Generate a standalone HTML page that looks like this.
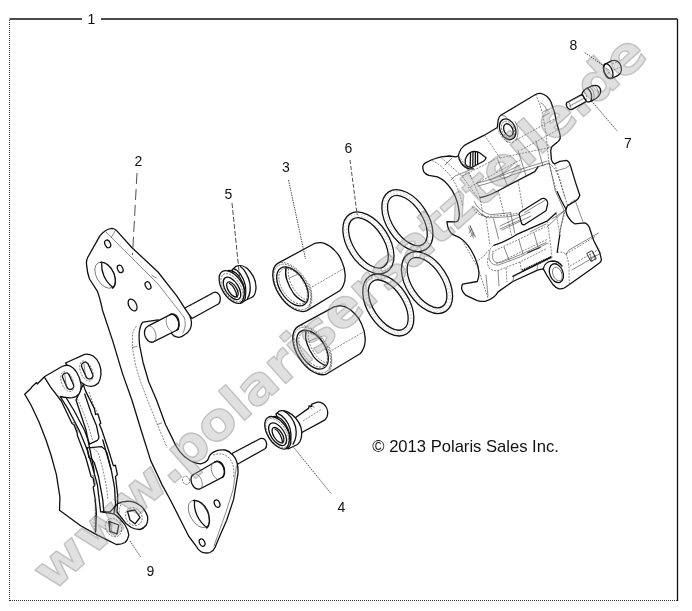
<!DOCTYPE html>
<html><head><meta charset="utf-8"><title>Brake caliper</title>
<style>
html,body{margin:0;padding:0;background:#fff;}
body{width:692px;height:611px;overflow:hidden;position:relative;font-family:"Liberation Sans",sans-serif;}
svg{position:absolute;left:0;top:0;will-change:transform;}
.lbl{font-family:"Liberation Sans",sans-serif;font-size:14px;fill:#111;}
.k{fill:none;stroke:#111;stroke-width:1.3;stroke-linejoin:round;stroke-linecap:round;}
.kf{fill:#fff;stroke:#111;stroke-width:1.3;stroke-linejoin:round;stroke-linecap:round;}
.t{fill:none;stroke:#4a4a4a;stroke-width:0.65;stroke-linecap:round;}
.d{fill:none;stroke:#3a3a3a;stroke-width:0.62;stroke-dasharray:2 1.2;}
.ld{fill:none;stroke:#222;stroke-width:0.8;}
</style></head><body>
<svg width="692" height="611" viewBox="0 0 692 611">
<!-- FRAME -->
<g id="frame">
<path d="M9.5 19H82M101 19H677.5" stroke="#111" stroke-width="1.3" fill="none"/>
<path d="M677.5 19V601" stroke="#111" stroke-width="1.3" fill="none"/>
<path d="M9.5 20V601" stroke="#333" stroke-width="1" stroke-dasharray="1 1" fill="none" shape-rendering="crispEdges"/>
<path d="M10 600.5H677" stroke="#333" stroke-width="1" stroke-dasharray="1 1" fill="none" shape-rendering="crispEdges"/>
</g>
<!-- ===== BRACKET (2) ===== -->
<g id="bracket">
<!-- rear part of upper pin (behind plate) -->
<path class="kf" d="M184 308.5L213.6 292.5C216 291.6 218 292.8 219.4 295C220.8 297.8 220.6 301 218.8 303.8L192 318.5Z"/>
<path class="d" d="M190 305.5L213 293.5"/>
<!-- rear part of lower pin -->
<path class="kf" d="M232 453.5L260 438.7C263 437.6 265 439 266.2 442C267 445 266.5 447.5 265 448.8L237 464.5Z"/>
<path class="d" d="M236 451.5L259 439.6"/>
<!-- plate -->
<path class="kf" d="M112 228.3C108 228.6 103 232 100 235.6L87.8 257.3C86.4 260 86.2 262.5 86.6 265.1C87 270 88 275 89.5 279L97.3 291.1C99.6 297 101 303 102.5 310.2L112.7 340.9L122.5 373.6L131.9 400L140.9 429.5L150.7 460.6L162.2 485.1L170.4 500L188.6 536L196.3 546.3C198 549.5 200 551.5 202.5 552.3C205.5 553.2 208 553.2 210 552.5C212.5 551.5 214 549.8 215 547.5L219.8 536L226.7 520.2L233.6 499.4L238 473.3C238.2 469 237.8 466 237.1 463C236 459 234 456 231.9 454.3C230 452 227.5 450.5 225 450C222 449.6 219 449.8 216.3 450.8C213 452 210.5 454 209.4 456C208.5 458 208 459.5 207.6 460.3C205.5 462.5 203.5 463.6 200.7 463.8C196 463.5 192 462 188.6 459.5C183 456 178 451 173.6 440.9L165.5 424.5L156.5 400L148.7 381.8L143 362.2L139.7 345.8C139 341 139 337 139.2 332.7C139.5 330 140 328 140.6 326.2C141.2 324 142 323 143 322.1L158 319.8L171 333L173.8 335.9C175.5 336.8 177 337.3 179 337.3C181 337.2 182.5 336.5 184.2 335C187 333.5 189 331.5 190.2 329C191.2 327 191.6 324.5 191.4 322C191.2 319.5 190.5 317.5 189.4 315.1L184.2 307.3L177.1 296.3L158 272L132 247.7L116.4 230.4C115 229 113.5 228.4 112 228.3Z"/>
<!-- thin inner edge lines -->
<path class="t" d="M106 232.1L132 258L158 284L184 317.1"/>
<path class="t" d="M115.5 230.4L111.2 237.4M152 275.5L156.3 278"/>
<path class="t" d="M184 317.1C186 322 185.5 328 183 333"/>
<path class="d" d="M136.5 326C133.5 329.5 132.3 333 132.4 336L132.4 347.5L135.6 365.5L140.6 381.8L147.5 400L157.3 424.5L167.1 447.5"/>
<path class="t" d="M132.4 347.5L137 346.5M157.3 424.5L161.5 423"/>
<path class="t" d="M236.5 466L233 490L226 512L214 546"/>
<path class="d" d="M213 455C219 452.5 226 454 230 459C233.5 464 234.5 470 233.5 477"/>
<!-- holes upper -->
<ellipse class="k" cx="107.7" cy="243.9" rx="2.7" ry="4" transform="rotate(-25 107.7 243.9)" stroke-width="1"/>
<ellipse class="k" cx="120.2" cy="268.9" rx="2.6" ry="3.9" transform="rotate(-25 120.2 268.9)" stroke-width="1"/>
<ellipse class="k" cx="148" cy="285.5" rx="2.6" ry="3.9" transform="rotate(-25 148 285.5)" stroke-width="1"/>
<ellipse class="k" cx="132.6" cy="305" rx="3.8" ry="6.3" transform="rotate(-28 132.6 305)" stroke-width="1"/>
<!-- big hole upper -->
<ellipse class="t" cx="105.1" cy="275.2" rx="8.6" ry="14.2" transform="rotate(-30 105.1 275.2)"/>
<path class="k" d="M100.5 262.3C105 261.5 111 266 113.8 273C116.5 280 115.8 286 112.5 288.2"/>
<path class="k" d="M101.7 263.3C101 271 104.5 281 112.6 287.2"/>
<!-- big hole lower -->
<ellipse class="t" cx="198.8" cy="514" rx="8.6" ry="15" transform="rotate(-30 198.8 514)"/>
<path class="k" d="M193.5 500.5C198.5 499.5 205 504.5 208 512C210.5 519.5 209.5 526 206.8 528"/>
<path class="k" d="M194.6 501.5C193.5 510 198 521 206.8 527.5"/>
<ellipse class="k" cx="217.1" cy="503.6" rx="2.6" ry="3.8" transform="rotate(-25 217.1 503.6)" stroke-width="1"/>
<ellipse class="k" cx="202.1" cy="542.6" rx="2.6" ry="3.8" transform="rotate(-25 202.1 542.6)" stroke-width="1"/>
<ellipse class="d" cx="186" cy="480.4" rx="3.4" ry="4.3" transform="rotate(-25 186 480.4)"/>
<!-- upper pin front section -->
<path class="kf" d="M147.9 326.2L171.7 313.9C175 313.6 177.5 316 178.6 320C179.5 324 179 327.5 178.2 329.5L152.8 342.2C149.5 342.6 146.5 340 145 336C143.8 331.5 145 327.8 147.9 326.2Z"/>
<path class="t" d="M149.5 325.8C152.5 326.5 155 330 155.8 334C156.5 338 155.6 341 153.5 342"/>
<path class="k" d="M170 314.6C173.5 313.6 177 316.5 178.3 321C179.3 325 178.6 328.5 176.6 330.2" stroke-width="1"/>
<path class="t" d="M167.5 316C165.8 318 165.6 321.5 166.8 325C167.8 328 169.6 330.5 171.6 331.6"/>
<!-- lower pin front section -->
<path class="kf" d="M194 474.2L216.3 461.2C219.5 460.8 222.5 463 224 467.5C225 471.5 224.6 475 223.2 476.8L199.8 489C196.5 489.6 193.2 487.2 191.6 483C190.3 478.6 191.2 475.5 194 474.2Z"/>
<path class="t" d="M195.6 473.6C198.5 474.3 201 477.5 202 481.6C202.8 485.5 202 488 200.2 489"/>
<path class="k" d="M214.5 462.2C218 460.6 222 463.2 223.6 467.8C224.8 471.6 224.2 475.2 222.4 477.2" stroke-width="1"/>
<path class="t" d="M212.4 463.4C210.8 465.5 210.8 469 212 472.4C213 475.4 215 478 217 479"/>
</g>
<!-- ===== SEAL RINGS (6) ===== -->
<defs>
<g id="ring">
<ellipse class="kf" cx="0" cy="0" rx="34.3" ry="20.8"/>
<ellipse cx="0" cy="0" rx="32.3" ry="18.8" fill="none" stroke="#999" stroke-width="0.45" stroke-dasharray="1.4 2"/>
<ellipse cx="0" cy="0" rx="30.3" ry="16.8" fill="none" stroke="#999" stroke-width="0.45" stroke-dasharray="1.4 2"/>
<ellipse class="kf" cx="0" cy="0" rx="28.4" ry="14.9"/>
</g>
<g id="piston">
<!-- body -->
<path class="kf" d="M-14.6 -23.6L21.7 -43.3C26 -44.6 30 -44.4 32.1 -43.7C36.5 -42 40 -39.5 42.5 -36.4C46 -33 48.5 -28.5 49.4 -26C51.5 -21.5 52.6 -16.5 52.9 -12.1C53 -7.5 52.3 -4 51.1 -1.7C50.3 0.5 49 2.3 47.7 3.5L14.6 23.6A27.8 16 57 0 1 -14.6 -23.6Z"/>
<!-- front face right half (thin) -->
<path class="d" d="M-14.6 -23.6A27.8 16 57 0 1 14.6 23.6"/>
<ellipse class="d" cx="0" cy="0" rx="25.6" ry="14.4" transform="rotate(57)"/>
<!-- bore -->
<ellipse class="kf" cx="0.2" cy="-0.6" rx="21.7" ry="12.6" transform="rotate(57 0.2 -0.6)" stroke-width="1.2"/>
<ellipse class="d" cx="0.8" cy="-0.9" rx="20" ry="11" transform="rotate(57 0.8 -0.9)"/>
<!-- inner step arc -->
<path class="k" d="M-6.1 -19.8C-7.2 -15 -6.8 -11 -5.5 -7.2C-3.8 -2 -1.5 2.5 1.3 6.5C4.5 10.5 8.5 13.5 12.8 15.1" stroke-width="1.2"/>
<path class="d" d="M-3.6 -18.6C-4.4 -14 -4 -10.5 -2.8 -7C-1 -2 1.2 2 4 5.5C6.8 9 10.5 11.8 14.5 13.2"/>
<path class="t" d="M-3 -9L6 -13"/>
<!-- tangent thin lines -->
<path class="d" d="M19.7 0L51.1 -18.2"/>
<path class="d" d="M17 -3C20 3 20.5 12 16 21.5"/>
</g>
</defs>
<g id="rings">
<use href="#ring" transform="translate(407.4 220.6) rotate(57)"/>
<use href="#ring" transform="translate(368.4 242.9) rotate(57)"/>
<use href="#ring" transform="translate(427 282.6) rotate(57)"/>
<use href="#ring" transform="translate(388.3 305) rotate(57)"/>
</g>
<g id="pistons">
<use href="#piston" transform="translate(292.3 287)"/>
<use href="#piston" transform="translate(312.3 350.2)"/>
</g>
<!-- ===== BUSHING (5) ===== -->
<g id="bush5">
<!-- back flange -->
<path class="kf" d="M236 266.3C240 264.5 245.5 266 250 271.5C254.5 277 256.6 284 255.8 290C255.2 294 253.8 296.5 251.5 297.5L242 302L232 270Z"/>
<!-- groove / middle -->
<path class="k" d="M240.5 266.5C244 269 248.5 276 249.8 283C250.8 289 250 294.5 247.5 298.5"/>
<path class="k" d="M233.5 268.6C238.5 270 243.5 277 245.2 285C246.4 291 245.5 297 243 300.5"/>
<!-- front flange -->
<ellipse class="kf" cx="232.3" cy="287" rx="18.4" ry="10.2" transform="rotate(57 232.3 287)"/>
<path class="k" d="M228 270.6C233 269 240 275 243 283.5C245.5 291.5 244.5 299.5 240.5 303.2"/>
<ellipse class="d" cx="232" cy="287.6" rx="15.8" ry="8.4" transform="rotate(57 232 287.6)"/>
<ellipse class="k" cx="232" cy="288.4" rx="12.6" ry="6.6" transform="rotate(57 232 288.4)" stroke-width="1"/>
<ellipse class="k" cx="232.4" cy="289.4" rx="8.6" ry="4.1" transform="rotate(57 232.4 289.4)" stroke-width="1.1"/>
<path class="k" d="M229.5 283.5C233 285 236.5 291.5 237 297" stroke-width="1"/>
<path class="d" d="M233.5 284L239 292"/>
</g>
<!-- ===== BOOT (4) ===== -->
<g id="boot4">
<!-- tail tube -->
<path class="kf" d="M293.5 419L308.5 408.4L309.2 406L311.8 406.4L311.4 404.4L316.5 402.4C319.5 401.6 323 403 325.5 406C327.6 409 328.2 413.5 327 416.8C326.2 418.8 325 420 323.7 420.6L300 433.5Z"/>
<path class="t" d="M309.2 406L311.6 409M311.4 404.4L314 407.6"/>
<path class="d" d="M303 421L322 409"/>
<!-- back flange -->
<path class="kf" d="M279 411.2C284 409.5 291 412.5 296 418.5C300.5 424 302.5 431 301.5 436.5C301 440.5 299.2 443.5 296.5 445L288 449L276 414Z"/>
<path class="k" d="M284 411.2C289 413.5 294 420 295.6 427C296.8 433 296 439.5 293 444.2"/>
<path class="k" d="M277.5 413.4C282.5 415 288 421.5 290 428.5C291.6 435 290.8 442 288 446.2"/>
<!-- front flange -->
<ellipse class="kf" cx="277.8" cy="432.8" rx="18.2" ry="10.1" transform="rotate(57 277.8 432.8)"/>
<path class="k" d="M273.5 416.6C278.5 415.2 285 421 288 429C290.6 437 289.8 445 286 448.6"/>
<ellipse class="d" cx="277.3" cy="433.2" rx="16.4" ry="8.8" transform="rotate(57 277.3 433.2)"/>
<ellipse class="k" cx="277.6" cy="434.2" rx="12.8" ry="6.8" transform="rotate(57 277.6 434.2)" stroke-width="1"/>
<ellipse class="k" cx="278" cy="435.2" rx="8.8" ry="4.2" transform="rotate(57 278 435.2)" stroke-width="1.1"/>
<path class="k" d="M275 429C278.5 430.5 282 437 282.6 442.5" stroke-width="1"/>
</g>
<!-- ===== BLEEDER (7) ===== -->
<g id="bleed7">
<!-- shank -->
<path class="kf" d="M566.5 102.8L582.1 94.2L586.5 101.4L571.6 109.6C570.4 109.9 569.2 109.5 568.2 108.4C566.6 106.8 566 104.8 566.5 102.8Z" stroke-width="1.2"/>
<path class="t" d="M568 102.4L583 94.6M569.6 106L584.6 98"/>
<path class="t" d="M568.3 101.8C569.8 103.2 571 106.5 571.2 109.6"/>
<!-- body -->
<path class="kf" d="M582.1 94.2C582.6 91.6 584.6 89.4 587.3 88.1L592 85.9C594.5 85 597 85.2 598.6 86.4C600.2 87.8 600.9 89.8 600.6 91.6C600.4 93 600.2 93.6 599.9 94.2C599 96 597.6 97.4 596 98.5L590.7 101.4C588.6 102.2 587.2 102.1 586.5 101.4Z" stroke-width="1.2"/>
<path class="k" d="M587.3 88.1C589.8 89.8 591.4 93 591.6 96.4C591.7 98.6 591.3 100.2 590.7 101.4" stroke-width="0.9"/>
<path class="t" d="M589.8 86.9C592.3 88.6 594 92 594.2 95.6C594.2 97.2 594 98.4 593.6 99.6"/>
<path class="t" d="M594 85.4C596.6 87 598.2 90 598.4 93.4C598.4 94.6 598.2 95.6 597.8 96.6"/>
<path class="d" d="M584.5 92.5C586 94 587 97 586.8 100.5"/>
</g>
<!-- ===== CAP (8) ===== -->
<g id="cap8">
<path class="kf" d="M606.6 63.4L612 60.6C614 60 616 60.4 617.6 61.4C619.4 62.6 620.6 64.4 621.2 66.6C621.7 68.8 621.5 71 620.6 72.8C619.8 74.2 618.6 75.2 617.2 75.8L611.2 78.6C609 79 606.6 77.4 605 74.2C603.6 71.2 603.2 68.4 603.8 66.4C604.3 64.9 605.3 63.9 606.6 63.4Z" stroke-width="1.2"/>
<ellipse class="k" cx="608.2" cy="71" rx="4" ry="7.8" transform="rotate(-24 608.2 71)" stroke-width="1.1"/>
<path class="d" d="M612 64L618 61.6M613.5 70L620.5 67"/>
<path class="t" d="M606.6 68.6L609.2 70.4M607.8 73.4L610 72"/>
</g>
<!-- ===== CALIPER BODY ===== -->
<g id="caliper">
<path class="kf" d="M422.8 166.4C423.5 164.5 424.5 163.5 425.4 162.9L432.3 159.5L441 156.9L449.7 156L455.7 156.9L458.3 156C458.8 153 459.8 151 461 149C462.5 146.8 464.5 145 467 143.9L484.4 135.2L497.3 127.5L498.2 119.7C498.8 117.5 499.6 116.2 500.8 115.3L535.5 94.5C537.2 93.6 539 93.2 540.7 93.3C543 93.8 545 94.8 546.8 96.3C548.5 98 550 100 551.1 102.3L554.6 112.7L556.3 121.4L559.8 133.6C560.2 135.5 560.3 137.2 560.1 138.8C559.3 140.8 558 142 556.3 143.1L552 146.6C551.2 148 550.8 149.5 550.7 150.9L551.4 159.6C552 162 553 163.3 554.6 163.9L559.8 161.3L566.7 160.4C568.5 161.2 569.5 162.8 570.2 164.8L575.4 182.1L579.8 195.2C579 197.5 577.8 199.2 576.3 200.4L567.6 205.6C566.5 207.2 566 209 565.9 210.8C566.3 213.5 567.2 215.8 568.5 217.7C570.2 220.5 572.3 222.5 574.6 223.8L585 222.9C587 223.8 588.4 225.4 589.3 227.3L593.6 240.3L599.7 252.4L601.4 259.4C601.2 261 600.6 262 599.7 262.8L590.2 269.8L569.4 284.5L564.2 288C562.5 288.8 560.8 289 559 288.8C556.5 288 554.6 286.5 552.9 284.5L547.7 276.7L543.3 268.9L538.1 269.8L512.8 281.5L498.1 291.9C496.8 294 495.5 295.8 493.8 297.1C491 299.3 488 300.8 485.1 301.4C482.5 301.6 479.8 301.3 477.3 300.6L466 295.4C463.8 293.5 462.4 291.5 461.7 289.3C461.5 287.2 461.8 285.5 462.5 284.1L477.3 281.5C478.5 278.8 479 275.8 479 272.8C478.6 268 477.3 263 475.5 259C473.5 254 471 249.5 467.7 245.1C465 241.8 462 239 459.1 237.3L453 234.7C451 233.2 449.6 231.5 448.7 229.5C447.8 227 447.2 224.5 446.9 221.7L455.7 221.9C457.2 221.5 458 221 458.3 220.2C459.2 218 459.5 215.5 459.2 213.2C458.9 209.5 458.3 206 457.5 202.8C456.2 198.5 454.5 194.5 452.3 190.7C450.3 187.5 448 184.5 445.3 182C443 179.8 440.3 178 437.5 176.8L428.9 175.4C426.8 174.8 425 173.5 423.7 171.6C423 170 422.7 168.2 422.8 166.4Z"/>
<!-- top boss front face (hole) -->
<ellipse class="k" cx="507.7" cy="129.2" rx="7.6" ry="10.8" transform="rotate(-25 507.7 129.2)"/>
<ellipse class="k" cx="508.4" cy="130" rx="4.3" ry="6.6" transform="rotate(-25 508.4 130)" stroke-width="1"/>
<ellipse class="d" cx="508" cy="129.6" rx="6" ry="8.8" transform="rotate(-25 508 129.6)"/>
<!-- recess curve around window -->
<path class="k" d="M458.3 155C458.6 158.5 460 161.5 461.5 163.5C463.5 166.2 466 168 469 168.8L473.5 168.8" stroke-width="1.1"/>
<!-- window with hatch -->
<path class="kf" d="M465.3 159.5C466.5 155.5 469 152.8 472.2 151.7C474.5 151.3 477 151.6 479.2 152.5L486.1 157.7C485.8 159.3 484.8 160.4 483.5 161.2L472.2 167.3C469.8 167.5 467.6 166.8 466.2 165.5C465.2 163.8 464.9 161.5 465.3 159.5Z" stroke-width="1.2"/>
<path class="k" d="M470.6 152.6L470.2 166.6M473 151.8L472.8 166.2M475.4 151.8L475.3 164.8M477.6 152.2L477.6 163.6" stroke-width="0.8"/>
<!-- key thick interior lines -->
<path class="k" d="M480 197.6C486 196.5 492 194 498.2 190.7L534.8 171.6L538 166.8" stroke-width="1.2"/>
<path class="d" d="M538 166.8L549 163.5"/>
<path class="k" d="M493.8 245.4C501 243 509 239.5 516.3 234.7L547.5 220.8L556 213" stroke-width="1.2"/>
<path class="k" d="M557.2 191.7L561 200L565.9 209" stroke-width="1.4"/>
<path class="k" d="M559.8 235.1L558.4 244L557.2 252.4" stroke-width="1"/>
<!-- slot -->
<path class="k" d="M520.8 211.7L541.6 198.7C543.4 198.2 545 198.6 546 199.5C547.4 200.8 548 202.3 547.7 203.9L546 210.8L524.3 224.7C522.8 224.9 522 224.5 521.7 223.8L519.1 214.3C519.3 213 519.9 212.2 520.8 211.7Z" stroke-width="1.5"/>
<path class="t" d="M524.5 212.5L544.5 200.5"/>
<!-- bottom thick hatched bar -->
<path d="M522.5 270.6L552 256.8" fill="none" stroke="#111" stroke-width="2.4" stroke-dasharray="1.2 0.7"/>
<path class="k" d="M512.8 276.3L551 257.2" stroke-width="0.9"/>
<path class="k" d="M528 252.5L540 247.5" stroke-width="1"/>
<!-- lower ear hole -->
<ellipse class="k" cx="556.4" cy="273.2" rx="6.6" ry="9.8" transform="rotate(-22 556.4 273.2)" stroke-width="1.1"/>
<ellipse class="t" cx="557.4" cy="274" rx="4.4" ry="7.2" transform="rotate(-22 557.4 274)"/>
<path class="k" d="M543.3 268.9C544 264 548 261.2 552.5 261C556 261 559.5 262.5 562 266" stroke-width="1"/>
<!-- thin/dotted interior structure -->
<g class="d">
<path d="M432 160.5C438 163 446 170 452 178C457 186 461 196 462.5 206"/>
<path d="M441 157.5L462 176L478 198"/>
<path d="M458.3 156C462 160 466 166 468 170L480 197.6"/>
<path d="M462 176L500 157M468 188L520 160"/>
<path d="M484.4 135.2L492 146L500 158"/>
<path d="M497.3 127.5C499 133 502 138 506.5 141.5C511 143.5 514.5 142.5 516.5 139"/>
<path d="M516 140L556 118M521 150L558.5 129.5M500 158L552 147"/>
<path d="M535.5 94.5C538 99 541 107 543 116L546 134L549 163.5"/>
<path d="M472.2 206.3C473.5 209.5 475.5 212 477.4 213.2C480 215.2 483 216.3 486.1 216.7L506.9 215L519 213"/>
<path d="M480 197.6L483 215M498.2 190.7L504 214M518 180.5L523 210"/>
<path d="M549 163.5L556 190L557.2 191.7"/>
<path d="M549 163.5C553 166 556 170 558 175L565 198"/>
<path d="M486 217L490 246M507 215L512 237.5"/>
<path d="M461 238L478 268L488 298"/>
<path d="M476 262L484 256C487 252 490 248.5 493.8 245.4"/>
<path d="M488 258C487 262 487.5 266 489.5 268.5C492 270.5 495 271 498 270.5L520 262L546 249"/>
<path d="M492 252L545 227M496 264L548 239"/>
<path d="M506 268L507 282M520 262L521.5 271"/>
<path d="M556 213L560 235M547.5 220.8L552 256.8"/>
<path d="M565.9 209L561 226L559.8 235.1"/>
<path d="M557.2 252.4C560 251.5 563 252 566 254"/>
<path d="M566 254L596 236M570 266L600 248.5"/>
<path d="M566 254C568.5 260 569.5 268 569 276L569.4 284.5"/>
<path d="M554.6 163.9L560 180L567.6 205.6"/>
<path d="M575 200L570 203"/>
</g>
<g class="t">
<path d="M468.5 227L473.5 238M470 225.5L475.5 237M471.5 229L469 233M473.5 233L470.5 236.5"/>
<path d="M486 217L480.5 214M490 180L520 165"/>
<path d="M541 103C543.5 104 545.5 106.5 546.5 110M543 112L548 109.5M544 116L549.5 113"/>
<path d="M590 254L592 262M593 252.5L595.5 260M590 258L596 255.5"/>
<path d="M500 229L520 220M530 232L546 224"/>
</g>
<g class="t">
<path d="M476.3 183.4C488 180.5 500 176.5 510.7 172.3L547.1 161.1"/>
<path d="M478 186C490 183 502 179 512 175L548 163.5"/>
<path d="M474.3 201.6C476.5 206 479 209 482.4 210.7C485 212.8 488 214 490.5 214.7L510.7 212.7"/>
<path d="M476.3 208.7C479.5 213 484 216.5 488.4 217.8L508.7 216.8L519 214.5"/>
<path d="M493.5 218.8L498.6 239M510.7 212.7L514.7 233"/>
<path d="M564.3 210.7L547.1 226.9M564.3 210.7L559.2 235M564.3 210.7L552 219"/>
<path d="M549.1 162.1L555.2 190.5L564.3 210.7"/>
<path d="M470 226L474 236M500 226L530 212M502 230L531 216"/>
<path d="M490 250C488.5 254 488.5 258.5 490.5 262C492.5 264.5 495.5 265.5 498.5 265L520 257L548 243"/>
<path d="M493 253C492 256.5 492.5 259.5 494.5 261.5C497 263 499.5 263 502 262L522 254L546 242.5"/>
<path d="M504 247L509 260M519 240L523 254M534 233L538 247"/>
<path d="M498 270.5L499 286M486 275L488 296"/>
<path d="M512.8 281.5L514 276M537 269L538 263"/>
<path d="M566 254L569 250L598.5 233M572 270L601 253"/>
<path d="M575 200L583 222M570.2 164.8L566 168L556 171"/>
<path d="M451 180L455 176L470 170M445 165L452 158"/>
<path d="M500.8 115.3C503 115 505 116 507 118M516.5 139C519 134 518.5 127 515 121.5"/>
<path d="M498 160L507 185M518 150L526 176M536 141L543 166"/>
</g>
<rect x="588.5" y="251.5" width="6" height="9" fill="none" stroke="#222" stroke-width="0.8" transform="rotate(-28 591.5 256)"/>
</g>
<!-- ===== BRAKE PADS (9) ===== -->
<g id="pads">
<!-- back pad upper ear -->
<path class="kf" d="M65.5 363L84.6 354.3C87.5 353.8 90.5 354.5 93.2 356C96 358 98 360.8 99.3 363.9C100.6 367 101.2 370.8 101 374.3C100.6 378 99.8 380.8 98.4 383C96.5 385 94 386.2 91.5 386.4C89 386.4 86.6 385.8 84.6 384.7L78 380Z"/>
<!-- back pad lower ear -->
<path class="kf" d="M117.5 503.8C121 501.8 125.5 501 130 501.3C134 501.8 138 503.6 141.3 506.3C144 509 146.3 512.5 147.5 516.3C148 519.5 147.6 522.5 146.3 525C144.6 527.3 142.5 528.8 140 529.5C137 529.5 134 528.8 131.3 527.5L126.3 523.8L117 512Z"/>
<!-- back pad body strip between ears (white fill) -->
<path class="kf" d="M83.2 384.4L85.7 391.4L94.3 408.4L95.6 414.5L97.8 413.8L100.8 423.2L99.4 424.2L101.7 429.7L108.1 448.8L113.4 465.9L115.4 465.2L117.4 474.6L115.5 476.5L117.7 495.6L117.5 503.8L110 512L96 512L94 470L86 430L76 400Z"/>
<!-- front pad : friction face + front ears -->
<path class="kf" d="M24.7 394.2L30.8 388.6L31.5 387.2L36.5 382.6L37.2 384L44.7 376.5L62 366.5C64.3 365.5 66.8 365.3 69 365.6C72 366.8 74.8 369.2 76.8 372.5C79 376 80.6 380.5 81.1 384.7C81.3 388 80.6 391 79.4 393.3C77.6 395.8 75 397.3 72.4 397.7C68.5 398.2 64.5 397.5 60.2 396.5L67.7 408.4L79.4 430.7L86.8 448.8L92.1 465.9L97.4 485L100.6 511.5L100.8 512C100.5 511.8 101.5 511.8 102.5 512L113.8 513.8C118 516.5 122 520.5 125 525C127.3 528.5 128.5 532 128.8 535C128.2 538.3 126.8 541 125 542.5C122.3 544 119.3 544.6 116.3 544.5L105 538.8L94.6 533.6L80.7 525.8L59.5 510.2L59.9 497.2L56.4 474.7L51 455L46 440L39 422L31 405Z"/>
<!-- curve A: face/side boundary with notches -->
<path class="k" d="M44.7 377.7L50.6 387.1L61.3 401L71.9 423.3L74.2 425L77.4 433.5L77.2 435L85.7 457.3L91.1 476.5L93 478L94.6 485.8L93.2 487.1L95 498L96.4 512.7L95.6 531.9" stroke-width="1.2"/>
<path class="t" d="M71.9 423.3L74.6 422.2L78 431.8L77.4 433.5M91.1 476.5L93.4 475.4L95.4 483.8L94.6 485.8"/>
<!-- curve C: upper block left edge -->
<path class="k" d="M66.6 398.5L74 410.5L84.7 430.7L89.4 443.5" stroke-width="1.2"/>
<!-- curve F: upper block right edge w/ step -->
<path class="k" d="M84.7 394L91.1 412.7L96.4 425.4L98.9 437.1C98.9 438.6 98.4 439.6 97.4 440.3L89.4 444.1" stroke-width="1.2"/>
<!-- lower block -->
<path class="k" d="M87.2 447.8L101.7 446.7C104 448 106 450.5 107 453.1L111.3 470.1L114.5 487.1L115.5 504.1L113.8 513.8" stroke-width="1.2"/>
<path class="k" d="M87.2 447.8L88.9 457.3C91.5 458.5 93.3 460.3 94.3 462.7L98.5 476.5L102.8 499.9L103.8 512" stroke-width="1.2"/>
<!-- back plate inner edge -->
<path class="k" d="M102.8 440L110.9 468.9" stroke-width="0.9"/>
<g class="d">
<path d="M77.5 399L82 409L88 425L92.5 440"/>
<path d="M90.5 447.5C94.5 448.5 97.5 451 99 455L103 470L106.5 487L108 500"/>
<path d="M96 512.5C93.8 518 93.8 525 95 531"/>
<path d="M121 504.5C118.5 509 118.5 516 121.5 522"/>
<path d="M89 392L93 404L99 416"/>
</g>
<!-- hatch at lower face edge -->
<path d="M95.4 499L95.8 531" fill="none" stroke="#333" stroke-width="1.5" stroke-dasharray="0.8 0.8"/>
<!-- upper slots -->
<rect class="k" x="64.6" y="372.6" width="7" height="17.2" rx="3.5" transform="rotate(-24 68.1 381.2)" stroke-width="1.2"/>
<ellipse class="d" cx="67.3" cy="381.6" rx="5.8" ry="10.4" transform="rotate(-22 67.3 381.6)"/>
<rect class="k" x="83.7" y="361.8" width="7" height="17.6" rx="3.5" transform="rotate(-24 87.2 370.6)" stroke-width="1.2"/>
<ellipse class="d" cx="86.4" cy="371" rx="5.8" ry="10.6" transform="rotate(-22 86.4 371)"/>
<path class="t" d="M64.8 375L66.5 388M84 364.5L85.8 377.5"/>
<!-- lower diamond holes -->
<path class="k" d="M108.8 521.3L118.8 525L117 533.8L110 531.3Z" stroke-width="1.2"/>
<path class="t" d="M110.5 522L111.5 531.8"/>
<ellipse class="d" cx="113.5" cy="527.6" rx="7.6" ry="9.6" transform="rotate(-30 113.5 527.6)"/>
<path class="k" d="M127.5 511.3L135 510L140 517.5L135 523.8L130 520Z" stroke-width="1.2"/>
<ellipse class="d" cx="133.8" cy="516.6" rx="7.8" ry="9.4" transform="rotate(-35 133.8 516.6)"/>
</g>
<!-- WATERMARK -->
<g id="wm" opacity="0.36" transform="translate(52.2 592.4) rotate(-41.83) scale(1 0.95)" style="font-family:'DejaVu Sans','Liberation Sans',sans-serif;font-weight:bold;font-size:54.2px" fill="#a8a8a8" stroke="#585858" stroke-width="1.5" stroke-linejoin="round">
<text x="0" y="0"><tspan x="0" textLength="159.2" lengthAdjust="spacingAndGlyphs">www</tspan><tspan x="158.7 178.3 216.6 253.8 272.2 308.7 335.5 354.0 385.8 422.3 449.1 481.1 516.9 542.6 574.0 598.9 635.3 653.8 672.0 707.8 727.4 765.4">.polarisersatzteile.de</tspan></text>
</g>
<!-- LABELS -->
<g id="labels">
<text class="lbl" x="87.5" y="24.2">1</text>
<text class="lbl" x="134.5" y="165.9">2</text>
<text class="lbl" x="282" y="171.5">3</text>
<text class="lbl" x="337.5" y="511.5">4</text>
<text class="lbl" x="224.4" y="198.5">5</text>
<text class="lbl" x="344.6" y="153">6</text>
<text class="lbl" x="624" y="148.3">7</text>
<text class="lbl" x="569.4" y="49.6">8</text>
<text class="lbl" x="146.4" y="575.5">9</text>
<text x="372.3" y="452.2" style="font-family:'Liberation Sans',sans-serif;font-size:16.6px;fill:#111">© 2013 Polaris Sales Inc.</text>
<!-- leaders -->
<path class="ld" d="M137 173L132.5 255" stroke-dasharray="11 5"/>
<path class="ld" d="M288.5 180L305.5 258.8" stroke-dasharray="1.5 1" stroke-width="0.7"/>
<path class="ld" d="M293.8 447.5L331.2 493.8" stroke-dasharray="1.5 1" stroke-width="0.7"/>
<path class="ld" d="M232 203L239.5 276" stroke-dasharray="5 2"/>
<path class="ld" d="M350 160L357.2 215" stroke-dasharray="4 2"/>
<path class="ld" d="M591.6 101L616.8 130.6" stroke-dasharray="1.5 1" stroke-width="0.7"/>
<path class="ld" d="M584.7 52.5L604.6 66.4" stroke-dasharray="1.5 1" stroke-width="0.7"/>
<path class="ld" d="M130 541L141 557.5" stroke-dasharray="1.5 1" stroke-width="0.7"/>
</g>
</svg>
</body></html>
